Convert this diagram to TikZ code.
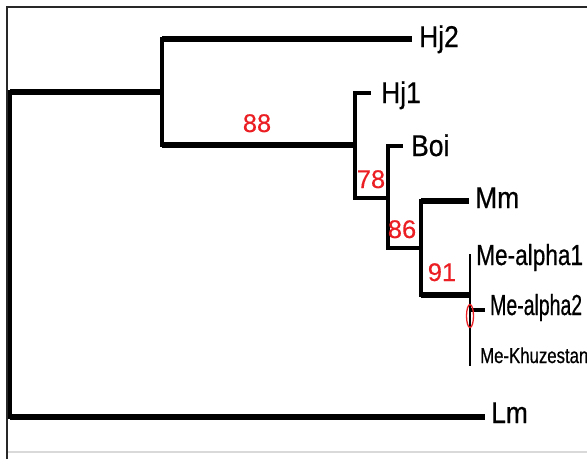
\documentclass[tikz,border=0pt]{standalone}
\usepackage{graphicx}
\usepackage{fontspec}
\setmainfont{Liberation Sans}
\newfontfamily\tipfont{Liberation Sans}[FakeStretch=0.88, FakeBold=0.6]
\newfontfamily\mefont{Liberation Sans}[FakeStretch=0.78, FakeBold=0.6]
\newfontfamily\bootfont{Liberation Sans}[FakeBold=0.3]
\usetikzlibrary{positioning}
\definecolor{bootred}{RGB}{235,30,35}
\definecolor{framegray}{RGB}{40,40,40}

\begin{document}
\begin{tikzpicture}[
    x=1pt, y=-1pt,
    branch/.style={line width=5.5pt},
    twig/.style={line width=4.5pt},
    stem/.style={line width=3.5pt, line cap=rect},
    taxon/.style={anchor=base west, inner sep=0pt, font=\tipfont\fontsize{30}{36}\selectfont},
    metaxon/.style={anchor=base west, inner sep=0pt, font=\mefont\fontsize{29}{34}\selectfont},
    boot/.style={anchor=base, inner sep=0pt, text=bootred, font=\bootfont\fontsize{25.5}{30}\selectfont}
]
\useasboundingbox (0,0) rectangle (587,459);
% frame
\draw[framegray, line width=2pt] (7,459) -- (7,7) -- (587,7);
\draw[black!15, line width=1.5pt] (8,452) -- (587,452);

% internal nodes (x of the split, y where it hangs from its parent)
\coordinate (nR) at (10,92);
\coordinate (nA) at (162,92);
\coordinate (nB) at (355,145);
\coordinate (nC) at (388,198);
\coordinate (nD) at (421,248);
\coordinate (nE) at (470,295);
% tips
\coordinate (tHjtwo) at (412,39);
\coordinate (tHjone) at (371,93);
\coordinate (tBoi) at (403,146);
\coordinate (tMm) at (469,201);
\coordinate (tMeaone) at (470,255);
\coordinate (tMeatwo) at (485,310);
\coordinate (tMeKh) at (470,365);
\coordinate (tLm) at (485,417);

% verticals
\draw[stem] (nR) -- (tLm -| nR);
\draw[stem] (tHjtwo -| nA) -- (nB -| nA);
\draw[stem] (tHjone -| nB) -- (nC -| nB);
\draw[stem] (tBoi -| nC) -- (nD -| nC);
\draw[stem] (tMm -| nD) -- (nE -| nD);
\draw[line width=2.8pt, line cap=rect] (tMeaone) -- (tMeKh);

% horizontals
\draw[branch] (nA -| nR) -- (nA);
\draw[branch] (tLm -| nR) -- (tLm);
\draw[branch] (tHjtwo -| nA) -- (tHjtwo);
\draw[branch] (nB -| nA) -- (nB);
\draw[twig] (tHjone -| nB) -- (tHjone);
\draw[twig] (nC -| nB) -- (nC);
\draw[twig] (tBoi -| nC) -- (tBoi);
\draw[twig] (nD -| nC) -- (nD);
\draw[branch] (tMm -| nD) -- (tMm);
\draw[branch] (nE -| nD) -- (nE);
\draw[twig] (tMeatwo -| nE) -- (tMeatwo);

% collapsed node marker
\draw[bootred, line width=1.3pt] (470,316) ellipse [x radius=3.5pt, y radius=11.5pt];

% taxa
\node[taxon] (Hjtwo) at (419,47) {Hj2};
\node[taxon] (Hjone) at (381,103) {Hj1};
\node[taxon] (Boi) at (411,156) {Boi};
\node[taxon] (Mm) at (475,208) {Mm};
\node[metaxon] (Meaone) at (476,265) {Me-alpha1};
\node[metaxon] (Meatwo) at (490,315) {\scalebox{0.86}[1]{Me-alpha2}};
\node[metaxon, font=\mefont\fontsize{21.5}{26}\selectfont] (MeKh) at (480,363) {Me-Khuzestan};
\node[taxon] (Lm) at (491,423) {Lm};

% bootstrap values
\node[boot] (bA) at (257,132) {88};
\node[boot] (bB) at (371,188) {78};
\node[boot] (bC) at (402,238) {86};
\node[boot] (bD) at (442,281) {91};
\end{tikzpicture}
\end{document}
